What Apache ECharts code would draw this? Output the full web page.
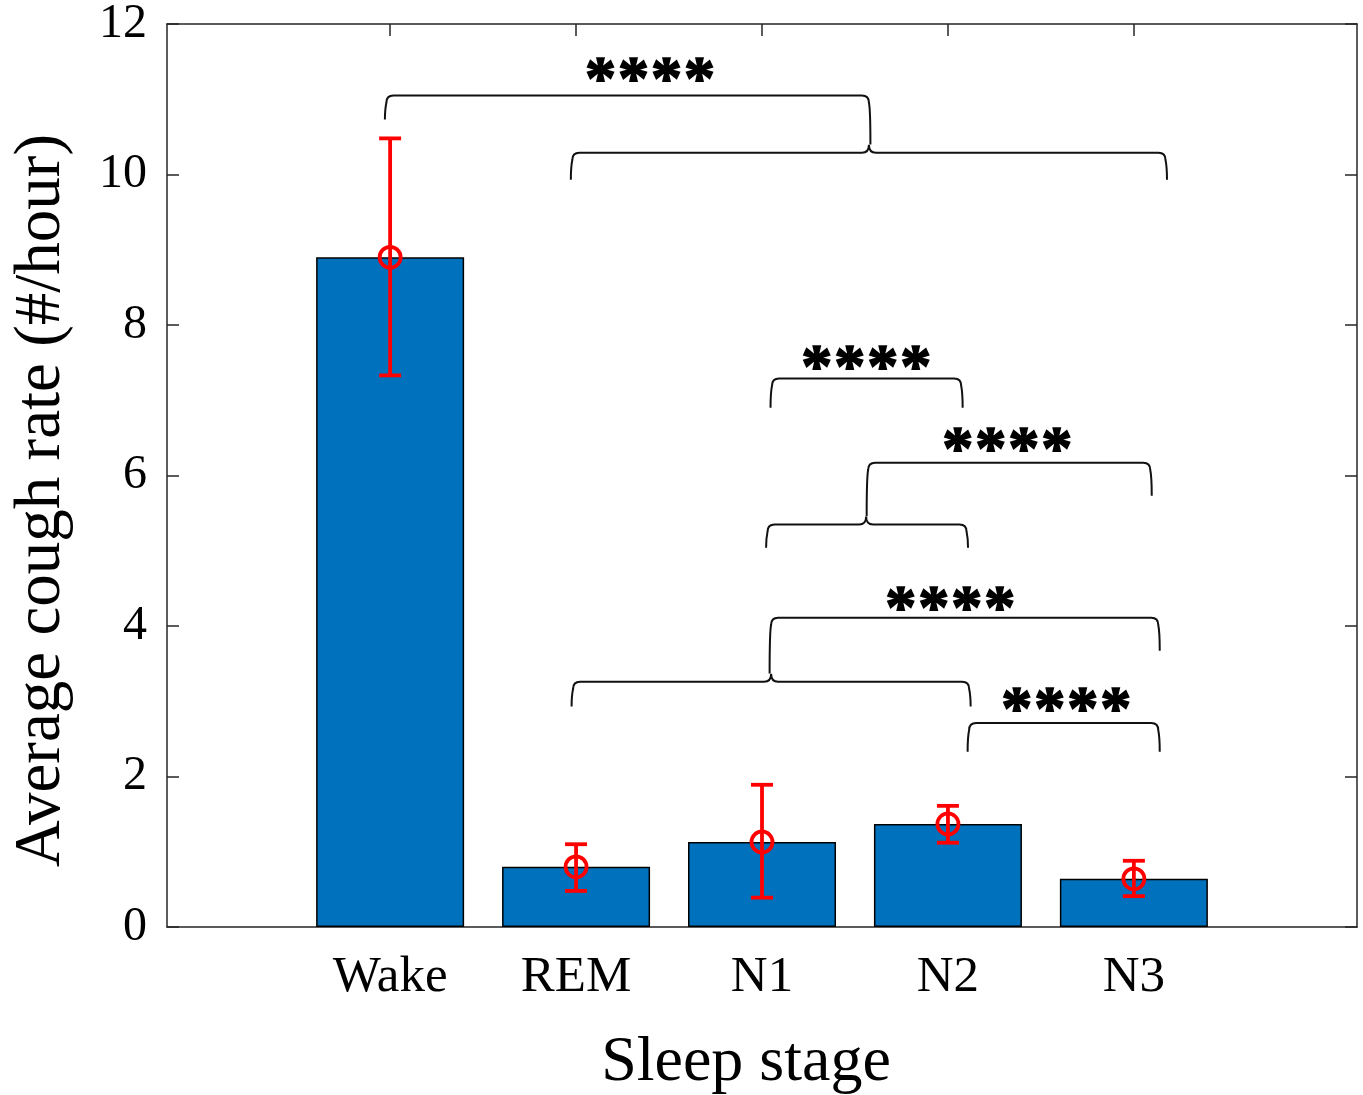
<!DOCTYPE html>
<html><head><meta charset="utf-8">
<script src="https://cdn.jsdelivr.net/npm/echarts@6.0.0/dist/echarts.min.js"></script>
<style>html,body{margin:0;padding:0;background:#fff}#c{width:1363px;height:1095px}</style>
</head><body><div id="c"></div>
<script>
// ---- data ----
const categories = ['Wake', 'REM', 'N1', 'N2', 'N3'];
const positions = [1, 2, 3, 4, 5];
const means = [8.90, 0.80, 1.13, 1.37, 0.64];
const errLow = [7.33, 0.48, 0.39, 1.12, 0.41];
const errHigh = [10.48, 1.10, 1.89, 1.61, 0.88];
const yTickValues = [0, 2, 4, 6, 8, 10, 12];
// brackets: [x1, x2, yBar, yEndLeft, yEndRight, cuspX (or null)]
const brackets = [
  [0.98, 3.575, 11.05, 10.73, 10.40, null],
  [1.98, 5.17, 10.29, 9.93, 9.93, 3.575],
  [3.054, 4.071, 7.29, 6.90, 6.90, null],
  [3.571, 5.088, 6.17, 5.46, 5.73, null],
  [3.03, 4.10, 5.35, 5.04, 5.04, 3.56],
  [3.049, 5.131, 4.11, 3.37, 3.67, null],
  [1.984, 4.114, 3.26, 2.93, 2.93, 3.049],
  [4.114, 5.131, 2.71, 2.33, 2.33, null]
];
// significance labels: [x, y, text]
const stars = [
  [2.398, 11.40, '****'],
  [3.560, 7.58, '****'],
  [4.319, 6.49, '****'],
  [4.012, 4.375, '****'],
  [4.636, 3.03, '****']
];

const FONT = '"Liberation Serif", "Times New Roman", serif';
const AX = '#262626';
const chart = echarts.init(document.getElementById('c'), null, {renderer: 'canvas'});

function xAxisDef(pos, showLabel) {
  return {
    type: 'value', min: -0.2, max: 6.2, position: pos,
    axisLine: {show: true, onZero: false, lineStyle: {color: AX, width: 1.5}},
    splitLine: {show: false},
    axisTick: {show: true, inside: true, length: 12, customValues: positions, lineStyle: {color: AX, width: 1.5}},
    axisLabel: {show: showLabel, customValues: positions,
      formatter: v => categories[Math.round(v) - 1],
      fontSize: 51, color: '#000', fontFamily: FONT, margin: 25},
    name: showLabel ? 'Sleep stage' : '',
    nameLocation: 'middle', nameGap: 104,
    nameTextStyle: {fontSize: 64, color: '#000', fontFamily: FONT, padding: [0, 32, 0, 0]}
  };
}
function yAxisDef(pos, showLabel) {
  return {
    type: 'value', min: 0, max: 12, interval: 2, position: pos,
    axisLine: {show: true, onZero: false, lineStyle: {color: AX, width: 1.5}},
    splitLine: {show: false},
    axisTick: {show: true, inside: true, length: 12, lineStyle: {color: AX, width: 1.5}},
    axisLabel: {show: showLabel, fontSize: 48, color: '#000', fontFamily: FONT, margin: 20},
    name: showLabel ? 'Average cough rate (#/hour)' : '',
    nameLocation: 'middle', nameGap: 93,
    nameTextStyle: {fontSize: 65, color: '#000', fontFamily: FONT, padding: [0, 50, 0, 0]}
  };
}

const option = {
  backgroundColor: '#fff',
  animation: false,
  grid: {left: 167, right: 6, top: 24, bottom: 168, containLabel: false, outerBoundsMode: 'none'},
  xAxis: [xAxisDef('bottom', true), xAxisDef('top', false)],
  yAxis: [yAxisDef('left', true), yAxisDef('right', false)],
  series: [
    {
      type: 'bar', xAxisIndex: 0, yAxisIndex: 0,
      data: positions.map((p, i) => [p, means[i]]),
      barWidth: 148,
      itemStyle: {color: '#0072BD', borderColor: '#000', borderWidth: 1.5},
      z: 2
    },
    {
      type: 'custom', xAxisIndex: 0, yAxisIndex: 0, z: 5,
      data: positions.map((p, i) => [p, errLow[i], errHigh[i], means[i]]),
      renderItem: function (params, api) {
        const x = api.value(0);
        const lo = api.coord([x, api.value(1)]);
        const hi = api.coord([x, api.value(2)]);
        const m = api.coord([x, api.value(3)]);
        const st = {stroke: '#ff0000', lineWidth: 3.8, fill: 'none'};
        const cw = 11;
        return {type: 'group', children: [
          {type: 'line', shape: {x1: lo[0], y1: lo[1], x2: hi[0], y2: hi[1]}, style: st},
          {type: 'line', shape: {x1: lo[0] - cw, y1: lo[1], x2: lo[0] + cw, y2: lo[1]}, style: st},
          {type: 'line', shape: {x1: hi[0] - cw, y1: hi[1], x2: hi[0] + cw, y2: hi[1]}, style: st},
          {type: 'circle', shape: {cx: m[0], cy: m[1], r: 10.5}, style: st}
        ]};
      }
    },
    {
      type: 'custom', xAxisIndex: 0, yAxisIndex: 0, z: 6,
      data: brackets.map(b => [b[0], b[1], b[2], b[3], b[4], b[5] == null ? -99 : b[5]]),
      renderItem: function (params, api) {
        const x1 = api.coord([api.value(0), api.value(2)]);
        const x2 = api.coord([api.value(1), api.value(2)]);
        const eL = api.coord([api.value(0), api.value(3)]);
        const eR = api.coord([api.value(1), api.value(4)]);
        const cxv = api.value(5);
        const y = x1[1];
        const r = 7;
        let d = 'M' + (eL[0] - 1.5) + ' ' + eL[1] +
          ' Q' + (x1[0] - 1.5) + ' ' + (y + r * 2) + ' ' + x1[0] + ' ' + (y + r) +
          ' Q' + x1[0] + ' ' + y + ' ' + (x1[0] + r) + ' ' + y;
        if (cxv > -50) {
          const c = api.coord([cxv, api.value(2)])[0];
          d += ' L' + (c - r) + ' ' + y +
            ' Q' + c + ' ' + y + ' ' + c + ' ' + (y - 8) +
            ' Q' + c + ' ' + y + ' ' + (c + r) + ' ' + y;
        }
        d += ' L' + (x2[0] - r) + ' ' + y +
          ' Q' + x2[0] + ' ' + y + ' ' + x2[0] + ' ' + (y + r) +
          ' Q' + (x2[0] + 1.5) + ' ' + (y + r * 2) + ' ' + (eR[0] + 1.5) + ' ' + eR[1];
        return {type: 'path', shape: {pathData: d}, style: {stroke: '#111', lineWidth: 2, fill: 'none'}};
      }
    },
    {
      type: 'custom', xAxisIndex: 0, yAxisIndex: 0, z: 7,
      data: stars.map(s => [s[0], s[1]]),
      renderItem: function (params, api) {
        const p = api.coord([api.value(0), api.value(1)]);
        const txt = stars[params.dataIndex][2];
        const n = txt.length, pitch = 33;
        const children = [];
        for (let k = 0; k < n; k++) {
          children.push({type: 'text', x: p[0] + (k - (n - 1) / 2) * pitch, y: p[1] + 13,
            style: {text: txt[k], fontSize: 62, fontWeight: 'bold', fontFamily: FONT,
              fill: '#000', stroke: '#000', lineWidth: 1.6, align: 'center', verticalAlign: 'middle'}});
        }
        return {type: 'group', children: children};
      }
    }
  ]
};
chart.setOption(option);
</script>
</body></html>
